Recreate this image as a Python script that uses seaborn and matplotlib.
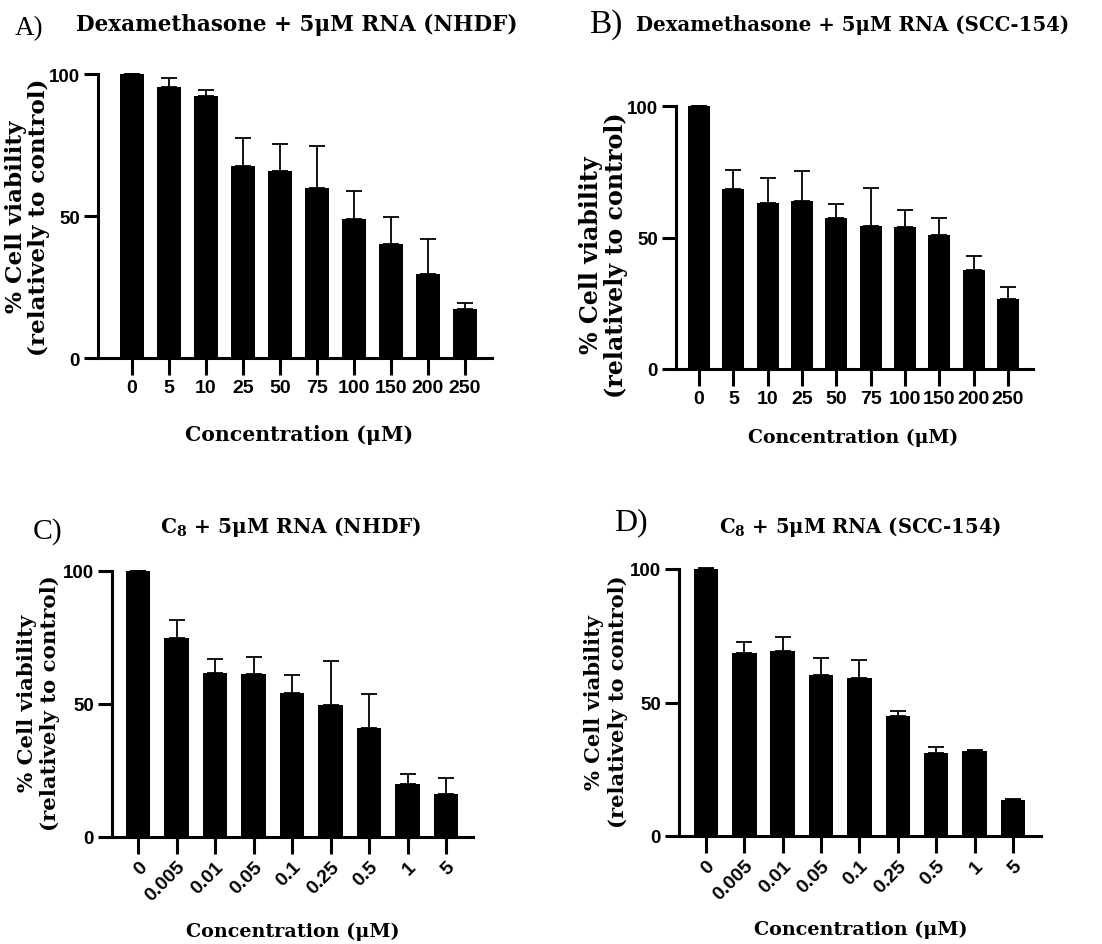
import numpy as np
import pandas as pd
import matplotlib
matplotlib.use("Agg")
import matplotlib.pyplot as plt
import seaborn as sns

# ---------------- data ----------------
dex_conc = ['0', '5', '10', '25', '50', '75', '100', '150', '200', '250']
dex_nhdf_mean = [100, 95.4, 92.4, 67.7, 66.0, 59.7, 49.1, 40.3, 29.5, 17.4]
dex_nhdf_sd = [0, 3.3, 2.0, 9.8, 9.4, 15.1, 9.6, 9.2, 12.4, 2.1]
dex_scc_mean = [100, 68.6, 63.2, 63.8, 57.6, 54.4, 54.1, 50.9, 37.7, 26.7]
dex_scc_sd = [0, 7.0, 9.5, 11.5, 5.3, 14.5, 6.2, 6.6, 5.2, 4.3]
c8_conc = ['0', '0.005', '0.01', '0.05', '0.1', '0.25', '0.5', '1', '5']
c8_nhdf_mean = [100, 75.0, 61.75, 61.4, 54.25, 49.6, 40.9, 20.0, 16.0]
c8_nhdf_sd = [0, 6.6, 5.35, 6.1, 6.65, 16.65, 13.0, 3.6, 6.25]
c8_scc_mean = [100, 68.4, 69.4, 60.25, 59.1, 45.0, 31.25, 31.9, 13.5]
c8_scc_sd = [0.2, 4.35, 5.0, 6.35, 7.0, 1.75, 2.15, 0.3, 0.3]

titles = ['Dexamethasone + 5μM RNA (NHDF)',
          'Dexamethasone + 5μM RNA (SCC-154)',
          r'C$_{\mathbf{8}}$ + 5μM RNA (NHDF)',
          r'C$_{\mathbf{8}}$ + 5μM RNA (SCC-154)']
letters = ['A)', 'B)', 'C)', 'D)']
xlabel = 'Concentration (μM)'
ylab1 = '% Cell viability'
ylab2 = '(relatively to control)'

# ---------------- style ----------------
sns.set_theme(style='ticks')
plt.rcParams['font.family'] = ['DejaVu Serif']
plt.rcParams['mathtext.fontset'] = 'custom'
plt.rcParams['mathtext.bf'] = 'DejaVu Serif:bold'
plt.rcParams['mathtext.rm'] = 'DejaVu Serif'
plt.rcParams['text.color'] = 'black'
plt.rcParams['axes.labelcolor'] = 'black'
plt.rcParams['xtick.color'] = 'black'
plt.rcParams['ytick.color'] = 'black'
plt.rcParams['axes.edgecolor'] = 'black'

W, H = 1102, 945
fig = plt.figure(figsize=(W / 100, H / 100), dpi=100)
fig.patch.set_facecolor('white')
renderer = fig.canvas.get_renderer()

SANS = 'Liberation Sans'


def fit_text(x, y, s, length_px, rotation=0, weight='bold', size0=14,
             family='DejaVu Serif'):
    t = fig.text(x / W, 1 - y / H, s, fontsize=size0, ha='center', va='center',
                 family=family, fontweight=weight, color='black')
    w = t.get_window_extent(renderer).width
    size = size0 * length_px / w
    t.set_fontsize(size)
    t.set_rotation(rotation)
    return t, size


def panel(rect, conc, mean, sd, xlim, rot, width):
    l, r, t, b = rect
    ax = fig.add_axes([l / W, 1 - b / H, (r - l) / W, (b - t) / H])
    df = pd.DataFrame({'conc': conc, 'viability': mean})
    sns.barplot(data=df, x='conc', y='viability', order=conc, color='black',
                saturation=1, width=width, errorbar=None, ax=ax,
                edgecolor='black', linewidth=0)
    x = np.arange(len(conc))
    ax.errorbar(x, mean, yerr=[np.zeros(len(sd)), sd], fmt='none',
                ecolor='black', elinewidth=1.3, capsize=6, capthick=1.3,
                clip_on=False, zorder=1)
    ax.set_xlim(*xlim)
    ax.set_ylim(0, 100)
    ax.set_yticks([0, 50, 100])
    ax.set_xlabel('')
    ax.set_ylabel('')
    for s in ['top', 'right']:
        ax.spines[s].set_visible(False)
    for s in ['left', 'bottom']:
        ax.spines[s].set_linewidth(2.2)
        ax.spines[s].set_color('black')
    ax.tick_params(axis='both', direction='out', length=10, width=2.2,
                   color='black', pad=3, bottom=True, left=True)
    ax.tick_params(axis='x', length=12)
    for lab in ax.get_yticklabels():
        lab.set_family(SANS)
        lab.set_fontweight('bold')
        lab.set_fontsize(13.5)
        lab.set_color('black')
    for lab in ax.get_xticklabels():
        lab.set_family(SANS)
        lab.set_fontweight('bold')
        lab.set_fontsize(14)
        lab.set_color('black')
        if rot:
            lab.set_rotation(45)
            lab.set_ha('right')
            lab.set_va('top')
            lab.set_rotation_mode('anchor')
    ax.set_facecolor('white')
    ax.grid(False)
    return ax


panel((98, 492, 75, 359), dex_conc, dex_nhdf_mean, dex_nhdf_sd, (-0.92, 9.73), False, 0.65)
panel((676, 1033, 107, 370), dex_conc, dex_scc_mean, dex_scc_sd, (-0.67, 9.73), False, 0.64)
panel((112, 473, 572, 838), c8_conc, c8_nhdf_mean, c8_nhdf_sd, (-0.68, 8.70), True, 0.64)
panel((679, 1041, 570, 837), c8_conc, c8_scc_mean, c8_scc_sd, (-0.70, 8.73), True, 0.64)

# titles
fit_text(297, 25, titles[0], 443)
fit_text(853, 25, titles[1], 435)
fit_text(291, 527, titles[2], 263)
fit_text(860, 527, titles[3], 283)

# panel letters
fit_text(29, 29, letters[0], 29, weight='normal', family='Liberation Serif')
fit_text(606, 25, letters[1], 34, weight='normal', family='Liberation Serif')
fit_text(48, 532, letters[2], 30, weight='normal', family='Liberation Serif')
fit_text(631, 523, letters[3], 34, weight='normal', family='Liberation Serif')

# x labels
fit_text(299, 435, xlabel, 228)
fit_text(853, 438, xlabel, 211)
fit_text(293, 932, xlabel, 214)
fit_text(861, 930, xlabel, 214)

# y labels (two lines each)
for (x1, x2, yc, L) in [(16, 39, 217, 278), (591, 616, 255, 285),
                        (27, 50, 703, 255), (594, 618, 702, 252)]:
    t2, sz = fit_text(x2, yc, ylab2, L, rotation=90)
    fig.text(x1 / W, 1 - yc / H, ylab1, fontsize=sz, ha='center', va='center',
             family='DejaVu Serif', fontweight='bold', rotation=90, color='black')

fig.savefig('out.png', dpi=100, facecolor='white')
